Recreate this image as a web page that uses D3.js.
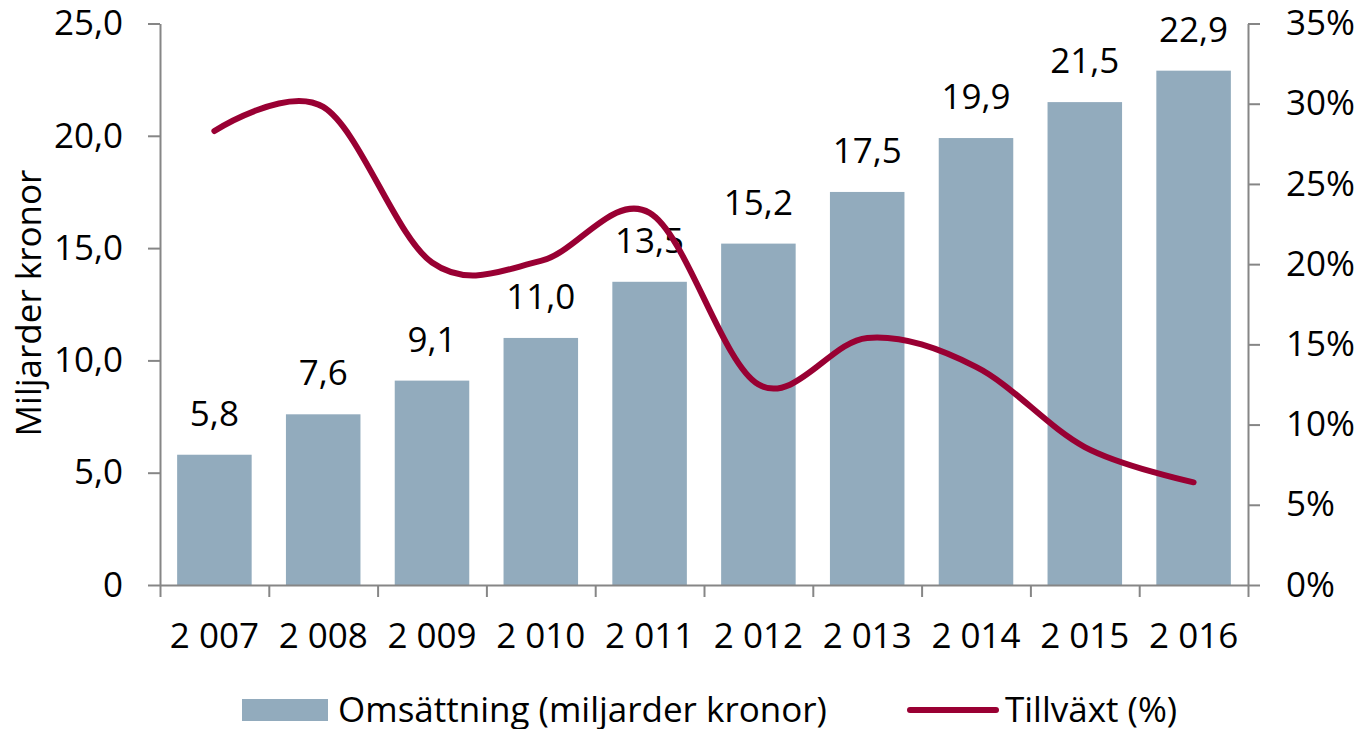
<!DOCTYPE html>
<html>
<head>
<meta charset="utf-8">
<script src="https://cdn.jsdelivr.net/npm/d3@7"></script>
<style>
  body { margin: 0; background: #fff; }
  svg { display: block; font-family: "Open Sans", sans-serif; }
  .axis path, .axis line { stroke: #868686; stroke-width: 2; }
  .axis text { font-size: 35px; fill: #000; font-family: "Open Sans", sans-serif; }
</style>
</head>
<body>
<div id="chart"></div>
<script>
const WIDTH = 1361;
const HEIGHT = 729;

// data
const years = ['2 007', '2 008', '2 009', '2 010', '2 011', '2 012', '2 013', '2 014', '2 015', '2 016'];
const turnover = [5.8, 7.6, 9.1, 11.0, 13.5, 15.2, 17.5, 19.9, 21.5, 22.9];
const growth = [28.3, 29.8, 20.1, 20.2, 23.2, 12.5, 15.4, 13.6, 8.6, 6.4];
const leftTicks = [0, 5, 10, 15, 20, 25];
const rightTicks = [0, 5, 10, 15, 20, 25, 30, 35];

const PLOT = { left: 160, right: 1248, top: 23.5, bottom: 585 };
const BAR_COLOR = '#92abbd';
const LINE_COLOR = '#990033';

const svg = d3.select('#chart').append('svg')
  .attr('width', WIDTH)
  .attr('height', HEIGHT);

const x = d3.scaleBand()
  .domain(years)
  .range([PLOT.left, PLOT.right])
  .padding(0);

const edges = d3.scaleLinear()
  .domain([0, years.length])
  .range([PLOT.left, PLOT.right]);

const yLeft = d3.scaleLinear().domain([0, 25]).range([PLOT.bottom, PLOT.top]);
const yRight = d3.scaleLinear().domain([0, 35]).range([PLOT.bottom, PLOT.top]);

const comma = d => d === 0 ? '0' : d3.format('.1f')(d).replace('.', ',');

const barW = x.bandwidth() * 0.685;

// bars
svg.append('g').attr('id', 'bars')
  .selectAll('rect')
  .data(turnover)
  .join('rect')
  .attr('x', (d, i) => x(years[i]) + (x.bandwidth() - barW) / 2)
  .attr('y', d => yLeft(d))
  .attr('width', barW)
  .attr('height', d => yLeft(0) - yLeft(d))
  .attr('fill', BAR_COLOR);

// axes
svg.append('g').attr('class', 'axis')
  .attr('transform', `translate(${PLOT.left},0)`)
  .call(d3.axisLeft(yLeft).tickValues(leftTicks).tickFormat(comma)
    .tickSize(12).tickSizeOuter(0).tickPadding(25));

svg.append('g').attr('class', 'axis')
  .attr('transform', `translate(${PLOT.right},0)`)
  .call(d3.axisRight(yRight).tickValues(rightTicks).tickFormat(d => d + '%')
    .tickSize(12).tickSizeOuter(0).tickPadding(26));

svg.append('g').attr('class', 'axis')
  .attr('transform', `translate(0,${PLOT.bottom})`)
  .call(d3.axisBottom(edges).tickValues(d3.range(years.length + 1)).tickFormat('')
    .tickSize(12).tickSizeOuter(0));

svg.append('g').attr('class', 'axis')
  .attr('transform', `translate(0,${PLOT.bottom})`)
  .call(d3.axisBottom(x).tickSize(0).tickPadding(38))
  .call(g => g.select('.domain').remove());

// data labels
svg.append('g').attr('id', 'labels')
  .selectAll('text')
  .data(turnover)
  .join('text')
  .attr('x', (d, i) => x(years[i]) + x.bandwidth() / 2)
  .attr('y', d => yLeft(d) - 29)
  .attr('text-anchor', 'middle')
  .attr('font-size', 35)
  .text(d => comma(d));

// growth line
const line = d3.line()
  .x((d, i) => x(years[i]) + x.bandwidth() / 2)
  .y(d => yRight(d))
  .curve(d3.curveCardinal.tension(0));

svg.append('path')
  .datum(growth)
  .attr('d', line)
  .attr('fill', 'none')
  .attr('stroke', LINE_COLOR)
  .attr('stroke-width', 6)
  .attr('stroke-linecap', 'round')
  .attr('stroke-linejoin', 'round');

// y title
svg.append('text')
  .attr('transform', 'translate(41,303) rotate(-90)')
  .attr('text-anchor', 'middle')
  .attr('font-size', 35)
  .text('Miljarder kronor');

// legend
const legend = svg.append('g').attr('id', 'legend');
legend.append('rect')
  .attr('x', 242).attr('y', 699)
  .attr('width', 86).attr('height', 22)
  .attr('fill', BAR_COLOR);
legend.append('text')
  .attr('x', 338).attr('y', 722)
  .attr('font-size', 35)
  .text('Omsättning (miljarder kronor)');
legend.append('line')
  .attr('x1', 910).attr('x2', 996)
  .attr('y1', 710).attr('y2', 710)
  .attr('stroke', LINE_COLOR)
  .attr('stroke-width', 6)
  .attr('stroke-linecap', 'round');
legend.append('text')
  .attr('x', 1005).attr('y', 722)
  .attr('font-size', 35)
  .text('Tillväxt (%)');
</script>
</body>
</html>
